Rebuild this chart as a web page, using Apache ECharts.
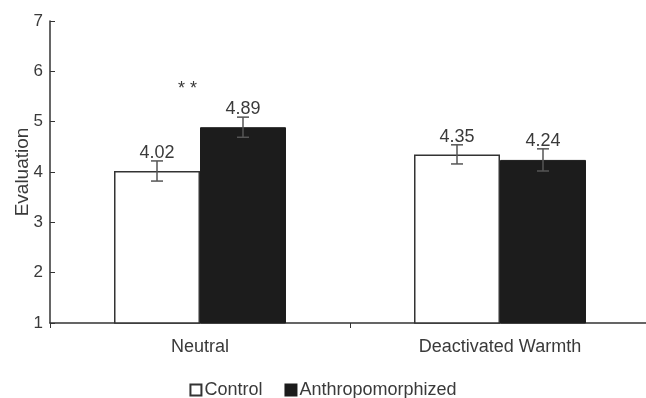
<!DOCTYPE html>
<html><head><meta charset="utf-8">
<script src="https://cdn.jsdelivr.net/npm/echarts@6/dist/echarts.min.js"></script>
<style>html,body{margin:0;padding:0;background:#fff}#c{width:646px;height:398px}</style>
</head><body><div id="c"></div>
<script>
const categories = ['Neutral', 'Deactivated Warmth'];
const seriesNames = ['Control', 'Anthropomorphized'];
const controlValues = [4.02, 4.35];
const anthroValues = [4.89, 4.24];
const controlErr = [0.20, 0.19];
const anthroErr = [0.20, 0.22];
const yTicks = [1, 2, 3, 4, 5, 6, 7];

const FONT = 'Liberation Sans, Arial, sans-serif';
const TXT = '#3a3a3a';
const GAP = 0.4267;
const chart = echarts.init(document.getElementById('c'));

function errSeries(values, errs, side) {
  return {
    type: 'custom',
    silent: true,
    z: 5,
    data: values.map((v, i) => [i, v, errs[i]]),
    renderItem: function (params, api) {
      const i = api.value(0), v = api.value(1), e = api.value(2);
      const band = api.size([1, 0])[0];
      const bw = band * (1 - GAP) / 2;
      const c = api.coord([i, v]);
      const x = c[0] + side * bw / 2;
      const yt = api.coord([i, v + e])[1];
      const yb = api.coord([i, v - e])[1];
      const cap = 6;
      const st = { stroke: '#555', lineWidth: 1.5 };
      return {
        type: 'group',
        children: [
          { type: 'line', shape: { x1: x, y1: yt, x2: x, y2: yb }, style: st },
          { type: 'line', shape: { x1: x - cap, y1: yt, x2: x + cap, y2: yt }, style: st },
          { type: 'line', shape: { x1: x - cap, y1: yb, x2: x + cap, y2: yb }, style: st },
          { type: 'text', style: { text: v.toFixed(2), x: x, y: yt + 1, align: 'center', verticalAlign: 'bottom', fill: TXT, font: '18px ' + FONT } }
        ]
      };
    }
  };
}

chart.setOption({
  animation: false,
  grid: { left: 50, right: -4, top: 21, bottom: 75, containLabel: false, outerBoundsMode: 'none' },
  legend: {
    data: seriesNames,
    top: 376,
    left: 'center',
    icon: 'rect',
    itemWidth: 11,
    itemHeight: 11,
    itemGap: 22,
    textStyle: { fontFamily: FONT, fontSize: 18, color: TXT, padding: [0, 0, 0, -2] }
  },
  xAxis: {
    type: 'category',
    data: categories,
    axisLine: { lineStyle: { color: '#333', width: 1.5 } },
    axisTick: { show: true, length: 5, lineStyle: { color: '#333' } },
    axisLabel: { fontFamily: FONT, fontSize: 18, color: TXT, margin: 15 }
  },
  yAxis: {
    type: 'value',
    min: 1, max: 7, interval: 1,
    name: 'Evaluation',
    nameLocation: 'middle',
    nameGap: 18,
    nameMoveOverlap: false,
    nameTextStyle: { fontFamily: FONT, fontSize: 19, color: TXT },
    axisLine: { show: true, lineStyle: { color: '#333', width: 1.5 } },
    axisTick: { show: true, inside: true, length: 5, lineStyle: { color: '#333' } },
    splitLine: { show: false },
    axisLabel: { fontFamily: FONT, fontSize: 17, color: TXT, margin: 7,
      formatter: v => yTicks.includes(v) ? String(v) : '' }
  },
  series: [
    { name: seriesNames[0], type: 'bar', data: controlValues, barGap: '0%', barCategoryGap: (GAP * 100) + '%',
      itemStyle: { color: '#fff', borderColor: '#333', borderWidth: 1.5 } },
    { name: seriesNames[1], type: 'bar', data: anthroValues,
      itemStyle: { color: '#1c1c1c', borderColor: '#1c1c1c', borderWidth: 1 } },
    errSeries(controlValues, controlErr, -1),
    errSeries(anthroValues, anthroErr, 1)
  ],
  graphic: [
    { type: 'text', left: 178, top: 80, style: { text: '* *', fill: TXT, font: '18px ' + FONT } }
  ]
});
</script></body></html>
